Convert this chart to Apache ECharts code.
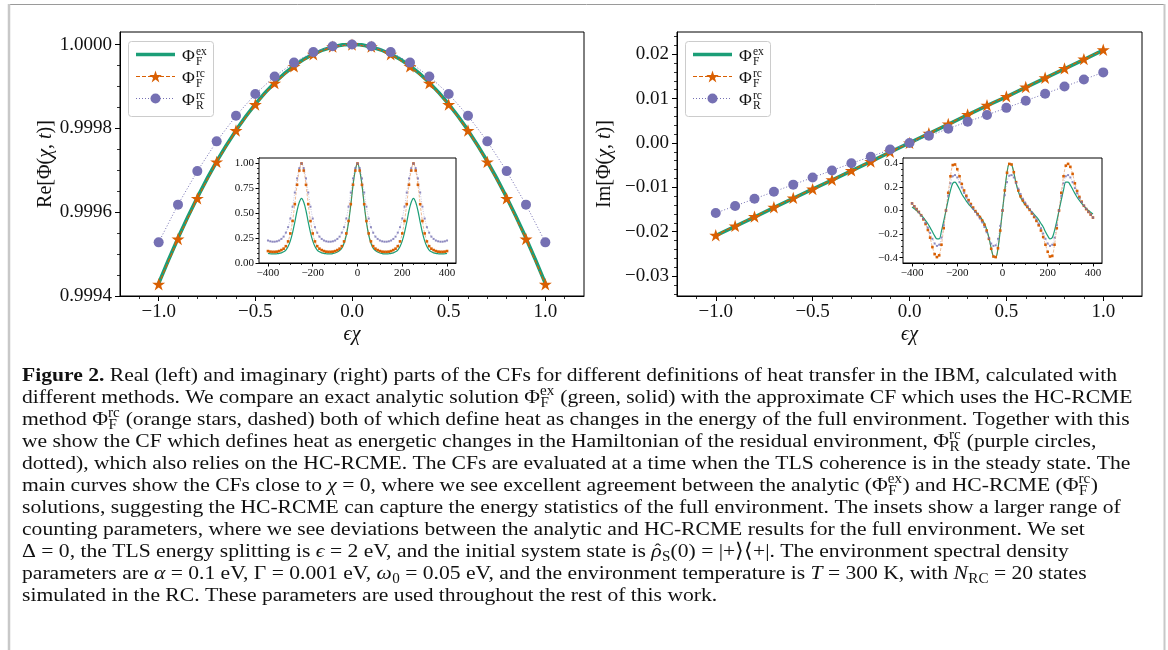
<!DOCTYPE html>
<html>
<head>
<meta charset="utf-8">
<title>Figure 2</title>
<script src="https://cdn.jsdelivr.net/npm/echarts@6.0.0/dist/echarts.min.js"></script>
<style>
html,body{margin:0;padding:0;background:#ffffff;}
#chart{width:1168px;height:650px;}
</style>
</head>
<body>
<div id="chart"></div>
<script>
// ======================= DATA =======================
const chiMain = [-1.0,-0.9,-0.8,-0.7,-0.6,-0.5,-0.4,-0.3,-0.2,-0.1,0.0,0.1,0.2,0.3,0.4,0.5,0.6,0.7,0.8,0.9,1.0];

// Re part, main panel
const reExact = [0.999430,0.999538,0.999635,0.999721,0.999795,0.999858,0.999909,0.999949,0.999977,0.999994,1.000000,0.999994,0.999977,0.999949,0.999909,0.999858,0.999795,0.999721,0.999635,0.999538,0.999430];
const reRcF   = [0.999428,0.999536,0.999633,0.999720,0.999795,0.999857,0.999908,0.999948,0.999977,0.999995,1.000000,0.999995,0.999977,0.999948,0.999908,0.999857,0.999795,0.999720,0.999633,0.999536,0.999428];
const reRcR   = [0.999528,0.999618,0.999698,0.999769,0.999830,0.999882,0.999924,0.999957,0.999982,0.999996,1.000000,0.999996,0.999982,0.999957,0.999924,0.999882,0.999830,0.999769,0.999698,0.999618,0.999528];

// Im part, main panel
const imExact = [-0.0209,-0.0188,-0.0167,-0.0146,-0.0125,-0.0104,-0.0084,-0.0063,-0.0042,-0.0021,0.0,0.0021,0.0042,0.0063,0.0084,0.0104,0.0125,0.0146,0.0167,0.0188,0.0209];
const imRcF   = [-0.0208,-0.0187,-0.0166,-0.0145,-0.0124,-0.0104,-0.0083,-0.0062,-0.0042,-0.0020,0.0,0.0022,0.0043,0.0064,0.0085,0.0105,0.0126,0.0147,0.0168,0.0189,0.0210];
const imRcR   = [-0.0158,-0.0142,-0.0126,-0.0110,-0.0094,-0.0078,-0.0062,-0.0046,-0.0031,-0.0015,0.0,0.0016,0.0032,0.0048,0.0063,0.0079,0.0095,0.0111,0.0127,0.0143,0.0159];

// inset abscissa
const chiInset = [-400,-390,-380,-370,-360,-350,-340,-330,-320,-310,-300,-290,-280,-270,-260,-250,-240,-230,-220,-210,-200,-190,-180,-170,-160,-150,-140,-130,-120,-110,-100,-90,-80,-70,-60,-50,-40,-30,-20,-10,0,10,20,30,40,50,60,70,80,90,100,110,120,130,140,150,160,170,180,190,200,210,220,230,240,250,260,270,280,290,300,310,320,330,340,350,360,370,380,390,400];

// Re part, inset
const reInsetExact = [0.096,0.093,0.091,0.091,0.093,0.096,0.102,0.112,0.130,0.165,0.222,0.305,0.410,0.525,0.610,0.650,0.610,0.525,0.410,0.305,0.222,0.165,0.130,0.112,0.102,0.096,0.093,0.091,0.092,0.095,0.100,0.110,0.125,0.150,0.199,0.281,0.409,0.581,0.782,0.927,1.000,0.927,0.782,0.581,0.409,0.281,0.199,0.150,0.125,0.110,0.100,0.095,0.092,0.091,0.093,0.096,0.102,0.112,0.130,0.165,0.222,0.305,0.410,0.525,0.610,0.650,0.610,0.525,0.410,0.305,0.222,0.165,0.130,0.112,0.102,0.096,0.093,0.091,0.091,0.093,0.096];
const reInsetRcF = [0.120,0.114,0.112,0.112,0.114,0.120,0.130,0.144,0.169,0.217,0.297,0.422,0.591,0.786,0.929,1.000,0.929,0.786,0.591,0.422,0.297,0.217,0.169,0.144,0.130,0.120,0.114,0.112,0.112,0.114,0.120,0.130,0.144,0.169,0.217,0.297,0.422,0.591,0.786,0.929,1.000,0.929,0.786,0.591,0.422,0.297,0.217,0.169,0.144,0.130,0.120,0.114,0.112,0.112,0.114,0.120,0.130,0.144,0.169,0.217,0.297,0.422,0.591,0.786,0.929,1.000,0.929,0.786,0.591,0.422,0.297,0.217,0.169,0.144,0.130,0.120,0.114,0.112,0.112,0.114,0.120];
const reInsetRcR = [0.226,0.218,0.214,0.214,0.218,0.226,0.242,0.265,0.305,0.360,0.447,0.566,0.708,0.850,0.953,1.000,0.953,0.850,0.708,0.566,0.447,0.360,0.305,0.265,0.242,0.226,0.218,0.214,0.214,0.218,0.226,0.242,0.265,0.305,0.360,0.447,0.566,0.708,0.850,0.953,1.000,0.953,0.850,0.708,0.566,0.447,0.360,0.305,0.265,0.242,0.226,0.218,0.214,0.214,0.218,0.226,0.242,0.265,0.305,0.360,0.447,0.566,0.708,0.850,0.953,1.000,0.953,0.850,0.708,0.566,0.447,0.360,0.305,0.265,0.242,0.226,0.218,0.214,0.214,0.218,0.226];

// Im part, inset
const imInsetExact = [0.030,0.015,0.000,-0.018,-0.038,-0.060,-0.085,-0.112,-0.145,-0.180,-0.215,-0.240,-0.240,-0.175,-0.090,0.000,0.090,0.170,0.230,0.240,0.215,0.180,0.140,0.110,0.080,0.055,0.033,0.012,-0.008,-0.028,-0.050,-0.076,-0.110,-0.160,-0.230,-0.320,-0.390,-0.396,-0.320,-0.170,0.000,0.170,0.320,0.396,0.390,0.320,0.230,0.160,0.110,0.076,0.050,0.028,0.008,-0.012,-0.033,-0.055,-0.080,-0.110,-0.140,-0.180,-0.215,-0.240,-0.230,-0.170,-0.090,0.000,0.090,0.175,0.240,0.240,0.215,0.180,0.145,0.112,0.085,0.060,0.038,0.018,0.000,-0.015,-0.030];
const imInsetRcF = [0.060,0.035,0.012,-0.012,-0.040,-0.075,-0.115,-0.165,-0.230,-0.310,-0.370,-0.395,-0.380,-0.290,-0.150,0.000,0.150,0.290,0.385,0.390,0.350,0.290,0.225,0.170,0.125,0.088,0.055,0.025,-0.005,-0.030,-0.055,-0.085,-0.120,-0.170,-0.240,-0.325,-0.390,-0.395,-0.320,-0.170,0.000,0.170,0.320,0.395,0.390,0.325,0.240,0.170,0.120,0.085,0.055,0.030,0.005,-0.025,-0.055,-0.088,-0.125,-0.170,-0.225,-0.290,-0.350,-0.390,-0.385,-0.290,-0.150,0.000,0.150,0.290,0.380,0.395,0.370,0.310,0.230,0.165,0.115,0.075,0.040,0.012,-0.012,-0.035,-0.060];
const imInsetRcR = [0.060,0.035,0.010,-0.015,-0.042,-0.072,-0.105,-0.145,-0.190,-0.240,-0.280,-0.300,-0.290,-0.230,-0.125,0.000,0.125,0.230,0.290,0.300,0.280,0.240,0.195,0.150,0.110,0.075,0.045,0.015,-0.012,-0.040,-0.068,-0.100,-0.140,-0.185,-0.235,-0.280,-0.300,-0.295,-0.240,-0.130,0.000,0.130,0.240,0.295,0.300,0.280,0.235,0.185,0.140,0.100,0.068,0.040,0.012,-0.015,-0.045,-0.075,-0.110,-0.150,-0.195,-0.240,-0.280,-0.300,-0.290,-0.230,-0.125,0.000,0.125,0.230,0.290,0.300,0.280,0.240,0.190,0.145,0.105,0.072,0.042,0.015,-0.010,-0.035,-0.060];

// tick labels
const mainXTicks  = [-1.0,-0.5,0.0,0.5,1.0];
const reMainYTicks = [0.9994,0.9996,0.9998,1.0000];
const imMainYTicks = [-0.03,-0.02,-0.01,0.00,0.01,0.02];
const insetXTicks = [-400,-200,0,200,400];
const reInsetYTicks = [0.00,0.25,0.50,0.75,1.00];
const imInsetYTicks = [-0.4,-0.2,0.0,0.2,0.4];

// caption
const captionLines = [
  "**Figure 2.** Real (left) and imaginary (right) parts of the CFs for different definitions of heat transfer in the IBM, calculated with",
  "different methods. We compare an exact analytic solution {Φ|ex|F} (green, solid) with the approximate CF which uses the HC-RCME",
  "method {Φ|rc|F} (orange stars, dashed) both of which define heat as changes in the energy of the full environment. Together with this",
  "we show the CF which defines heat as energetic changes in the Hamiltonian of the residual environment, {Φ|rc|R} (purple circles,",
  "dotted), which also relies on the HC-RCME. The CFs are evaluated at a time when the TLS coherence is in the steady state. The",
  "main curves show the CFs close to <χ> = 0, where we see excellent agreement between the analytic ({Φ|ex|F}) and HC-RCME ({Φ|rc|F})",
  "solutions, suggesting the HC-RCME can capture the energy statistics of the full environment. The insets show a larger range of",
  "counting parameters, where we see deviations between the analytic and HC-RCME results for the full environment. We set",
  "Δ = 0, the TLS energy splitting is <ϵ> = 2 eV, and the initial system state is {~^ρ||S}(0) = |+⟩⟨+|. The environment spectral density",
  "parameters are <α> = 0.1 eV, Γ = 0.001 eV, {~ω||0} = 0.05 eV, and the environment temperature is <T> = 300 K, with {~N||RC} = 20 states",
  "simulated in the RC. These parameters are used throughout the rest of this work."
];

// ======================= STYLE / HELPERS =======================
const SERIF = 'Liberation Serif';
const GREEN = '#1b9e77', ORANGE = '#d95f02', PURPLE = '#7570b3';
const INK = '#111111';
const STAR_PTS = [[0,-10],[2.245,-3.09],[9.511,-3.09],[3.633,1.18],[5.878,8.09],[0,3.82],[-5.878,8.09],[-3.633,1.18],[-9.511,-3.09],[-2.245,-3.09]];
const STAR = 'path://M' + STAR_PTS.map(p => p[0] + ',' + p[1]).join('L') + 'Z';

const zip = (xs, ys) => xs.map((x, i) => [x, ys[i]]);
function steps(a, b, step, dec) {
  const out = []; const n = Math.round((b - a) / step);
  for (let i = 0; i <= n; i++) out.push(+(a + i * step).toFixed(dec));
  return out;
}
function fmt(dec) {
  return v => { const s = Number(v).toFixed(dec); return s.charAt(0) === '-' ? '\u2212' + s.slice(1) : s; };
}
function axisPair(dim, gridIndex, min, max, major, minor, dec, fs, majLen, minLen, margin, extra) {
  const pos = dim === 'x' ? 'bottom' : 'left';
  const main = Object.assign({
    type: 'value', gridIndex, min, max, position: pos,
    axisLine: { show: true, onZero: false, lineStyle: { color: '#000', width: 1 } },
    axisTick: { show: true, inside: false, length: majLen, customValues: major, lineStyle: { color: '#000', width: 1 } },
    axisLabel: { show: true, customValues: major, formatter: fmt(dec), fontFamily: SERIF, fontSize: fs, color: INK, margin },
    splitLine: { show: false }, minorTick: { show: false }
  }, extra || {});
  const mn = {
    type: 'value', gridIndex, min, max, position: pos,
    axisLine: { show: false, onZero: false },
    axisTick: { show: true, inside: false, length: minLen, customValues: minor, lineStyle: { color: '#000', width: 0.8 } },
    axisLabel: { show: false }, splitLine: { show: false }
  };
  return [main, mn];
}

// ======================= AXES =======================
const nameStyle = { fontFamily: SERIF, fontSize: 20, color: INK, rich: { i: { fontFamily: SERIF, fontSize: 20, fontStyle: 'italic', color: INK } } };
const xAxes = [
  ...axisPair('x', 0, -1.2, 1.2, mainXTicks, steps(-1.1, 1.1, 0.1, 1), 1, 19, 5, 3, 7,
    { name: '{i|ϵχ}', nameLocation: 'middle', nameGap: 29, nameTextStyle: nameStyle }),
  ...axisPair('x', 1, -440, 440, insetXTicks, steps(-400, 400, 50, 0), 0, 11, 3.5, 2, 5),
  ...axisPair('x', 2, -1.2, 1.2, mainXTicks, steps(-1.1, 1.1, 0.1, 1), 1, 19, 5, 3, 7,
    { name: '{i|ϵχ}', nameLocation: 'middle', nameGap: 29, nameTextStyle: nameStyle }),
  ...axisPair('x', 3, -440, 440, insetXTicks, steps(-400, 400, 50, 0), 0, 11, 3.5, 2, 5)
];
const yAxes = [
  ...axisPair('y', 0, 0.9994, 1.00003, reMainYTicks, steps(0.9994, 1.0, 0.00005, 5), 4, 19, 5, 3, 8,
    { name: 'Re[Φ({i|χ}, {i|t})]', nameLocation: 'middle', nameGap: 64, nameRotate: 90, nameTextStyle: nameStyle }),
  ...axisPair('y', 1, 0, 1.055, reInsetYTicks, steps(0, 1.05, 0.05, 2), 2, 11, 3.5, 2, 5),
  ...axisPair('y', 2, -0.0345, 0.025, imMainYTicks, steps(-0.034, 0.024, 0.002, 3), 2, 19, 5, 3, 8,
    { name: 'Im[Φ({i|χ}, {i|t})]', nameLocation: 'middle', nameGap: 62, nameRotate: 90, nameTextStyle: nameStyle }),
  ...axisPair('y', 3, -0.445, 0.445, imInsetYTicks, steps(-0.40, 0.40, 0.05, 2), 1, 11, 3.5, 2, 5)
];

// ======================= SERIES =======================
function mainSeries(ax, exact, rcF, rcR, smoothExact) {
  return [
    { type: 'line', xAxisIndex: ax, yAxisIndex: ax, data: zip(chiMain, exact), smooth: smoothExact, symbol: 'none',
      lineStyle: { color: GREEN, width: 3.6 }, z: 2 },
    { type: 'line', xAxisIndex: ax, yAxisIndex: ax, data: zip(chiMain, rcF), symbol: STAR, symbolSize: 13, symbolKeepAspect: true,
      itemStyle: { color: ORANGE }, lineStyle: { color: ORANGE, width: 1.2, type: [4, 2] }, z: 3 },
    { type: 'line', xAxisIndex: ax, yAxisIndex: ax, data: zip(chiMain, rcR), symbol: 'circle', symbolSize: 10,
      itemStyle: { color: PURPLE }, lineStyle: { color: PURPLE, width: 1, type: [1, 2] }, z: 4 }
  ];
}
function insetSeries(ax, exact, rcF, rcR) {
  return [
    { type: 'line', xAxisIndex: ax, yAxisIndex: ax, data: zip(chiInset, exact), smooth: 0.35, symbol: 'none',
      lineStyle: { color: GREEN, width: 1.2 }, z: 6 },
    { type: 'line', xAxisIndex: ax, yAxisIndex: ax, data: zip(chiInset, rcF), smooth: 0.35, symbol: 'rect', symbolSize: 2.6,
      itemStyle: { color: ORANGE }, lineStyle: { color: ORANGE, width: 0.7, opacity: 0.6, type: [3, 1.5] }, z: 7 },
    { type: 'line', xAxisIndex: ax, yAxisIndex: ax, data: zip(chiInset, rcR), smooth: 0.35, symbol: 'rect', symbolSize: 2,
      itemStyle: { color: PURPLE, opacity: 0.8 }, lineStyle: { color: PURPLE, width: 0.7, opacity: 0.6, type: [1, 1.5] }, z: 8 }
  ];
}

// ======================= GRAPHICS (legend, frame, caption) =======================
function legendGraphics(gl, gt) {
  const els = [];
  els.push({ type: 'rect', shape: { x: gl + 8.5, y: gt + 9.5, width: 85, height: 75, r: 3 },
    style: { fill: 'rgba(255,255,255,0.85)', stroke: '#cccccc', lineWidth: 1 }, z: 20, silent: true });
  const rows = [
    { y: gt + 22.5, kind: 'ex', sup: 'ex', sub: 'F' },
    { y: gt + 44.5, kind: 'f', sup: 'rc', sub: 'F' },
    { y: gt + 66.5, kind: 'r', sup: 'rc', sub: 'R' }
  ];
  rows.forEach(r => {
    const x1 = gl + 16, x2 = gl + 55, cx = (x1 + x2) / 2;
    if (r.kind === 'ex') {
      els.push({ type: 'line', shape: { x1, y1: r.y, x2, y2: r.y }, style: { stroke: GREEN, lineWidth: 3.6 }, z: 21, silent: true });
    } else if (r.kind === 'f') {
      els.push({ type: 'line', shape: { x1, y1: r.y, x2, y2: r.y }, style: { stroke: ORANGE, lineWidth: 1.2, lineDash: [4, 2] }, z: 21, silent: true });
      els.push({ type: 'polygon', shape: { points: STAR_PTS.map(p => [cx + p[0] * 0.66, r.y + p[1] * 0.66 + 0.6]) },
        style: { fill: ORANGE }, z: 22, silent: true });
    } else {
      els.push({ type: 'line', shape: { x1, y1: r.y, x2, y2: r.y }, style: { stroke: PURPLE, lineWidth: 1, lineDash: [1, 2] }, z: 21, silent: true });
      els.push({ type: 'circle', shape: { cx, cy: r.y, r: 5 }, style: { fill: PURPLE }, z: 22, silent: true });
    }
    els.push({ type: 'text', x: gl + 62, y: r.y + 1.5, style: { text: 'Φ', fontFamily: SERIF, fontSize: 17.5, fill: INK, verticalAlign: 'middle', align: 'left' }, z: 22, silent: true });
    els.push({ type: 'text', x: gl + 76, y: r.y - 2.5, style: { text: r.sup, fontFamily: SERIF, fontSize: 11.5, fill: INK, verticalAlign: 'middle', align: 'left' }, z: 22, silent: true });
    els.push({ type: 'text', x: gl + 76, y: r.y + 7.5, style: { text: r.sub, fontFamily: SERIF, fontSize: 11.5, fill: INK, verticalAlign: 'middle', align: 'left' }, z: 22, silent: true });
  });
  return els;
}

function parseLine(s) {
  return s.split(/(\{[^}]*\}|<[^>]*>|\*\*[^*]*\*\*)/).filter(p => p.length).map(p => {
    if (p.startsWith('**')) return { t: p.slice(2, -2), b: true };
    if (p.startsWith('<')) return { t: p.slice(1, -1), it: true };
    if (p.startsWith('{')) {
      let [base, sup, sub] = p.slice(1, -1).split('|');
      const it = base.startsWith('~'); if (it) base = base.slice(1);
      const hat = base.startsWith('^'); if (hat) base = base.slice(1);
      return { stack: true, base, it, hat, sup, sub };
    }
    return { t: p };
  });
}

function captionGraphics() {
  const ctx = document.createElement('canvas').getContext('2d');
  const mw = (t, fs, it, b) => { ctx.font = (it ? 'italic ' : '') + (b ? 'bold ' : '') + fs + 'px "' + SERIF + '"'; return ctx.measureText(t).width; };
  const parsed = captionLines.map(parseLine);
  const fs = 19.5;
  const lineW = toks => toks.reduce((acc, tk) => {
    if (tk.stack) return acc + mw(tk.base, fs, tk.it) + Math.max(mw(tk.sup || '', fs * 0.7), mw(tk.sub || '', fs * 0.7)) + 0.5;
    return acc + mw(tk.t, fs, tk.it, tk.b);
  }, 0);
  const sx = Math.max(0.9, Math.min(1.2, 1095 / lineW(parsed[0])));
  const els = [];
  const txt = (x, y, t, size, it, b, align) => els.push({ type: 'text', x, y, scaleX: sx, silent: true, z: 30,
    style: { text: t, fontFamily: SERIF, fontSize: size, fontStyle: it ? 'italic' : 'normal', fontWeight: b ? 'bold' : 'normal', fill: INK, verticalAlign: 'middle', align: align || 'left' } });
  parsed.forEach((toks, i) => {
    const y = 376 + 22 * i; let x = 22;
    toks.forEach(tk => {
      if (tk.stack) {
        const wb = mw(tk.base, fs, tk.it);
        txt(x, y, tk.base, fs, tk.it, false);
        if (tk.hat) txt(x + (wb * 0.62) * sx, y - fs * 0.1, '\u02C6', fs * 0.9, false, false, 'center');
        x += wb * sx;
        const ss = fs * 0.7;
        if (tk.sup) txt(x, y - fs * 0.33, tk.sup, ss, false, false);
        if (tk.sub) txt(x + 0.5, y + fs * 0.3, tk.sub, ss, false, false);
        x += (Math.max(mw(tk.sup || '', ss), mw(tk.sub || '', ss)) + 0.5) * sx;
      } else {
        txt(x, y, tk.t, fs, tk.it, tk.b); x += mw(tk.t, fs, tk.it, tk.b) * sx;
      }
    });
  });
  return els;
}

const frame = [
  { type: 'line', shape: { x1: 8, y1: 4.5, x2: 1165, y2: 4.5 }, style: { stroke: '#9a9a9a', lineWidth: 1 }, z: 1, silent: true },
  { type: 'line', shape: { x1: 9, y1: 4, x2: 9, y2: 650 }, style: { stroke: '#c8c8c8', lineWidth: 2.5 }, z: 1, silent: true },
  { type: 'line', shape: { x1: 1164.5, y1: 4, x2: 1164.5, y2: 650 }, style: { stroke: '#c8c8c8', lineWidth: 2 }, z: 1, silent: true }
];

// ======================= CHART =======================
const grids = [
  { left: 120, top: 32, width: 464, height: 264, show: true, borderColor: '#000', borderWidth: 1, backgroundColor: 'rgba(0,0,0,0)' },
  { left: 259, top: 158, width: 197, height: 105, show: true, borderColor: '#000', borderWidth: 1, backgroundColor: '#ffffff', z: 3 },
  { left: 677, top: 32, width: 465, height: 264, show: true, borderColor: '#000', borderWidth: 1, backgroundColor: 'rgba(0,0,0,0)' },
  { left: 903, top: 158, width: 199, height: 105, show: true, borderColor: '#000', borderWidth: 1, backgroundColor: '#ffffff', z: 3 }
];

const chart = echarts.init(document.getElementById('chart'), null, { renderer: 'canvas' });
chart.setOption({
  animation: false,
  backgroundColor: '#ffffff',
  textStyle: { fontFamily: SERIF },
  grid: grids,
  xAxis: xAxes,
  yAxis: yAxes,
  series: [
    ...mainSeries(0, reExact, reRcF, reRcR, true),
    ...insetSeries(2, reInsetExact, reInsetRcF, reInsetRcR),
    ...mainSeries(4, imExact, imRcF, imRcR, false),
    ...insetSeries(6, imInsetExact, imInsetRcF, imInsetRcR)
  ],
  graphic: [...frame, ...legendGraphics(120, 32), ...legendGraphics(677, 32), ...captionGraphics()]
});
</script>
</body>
</html>
